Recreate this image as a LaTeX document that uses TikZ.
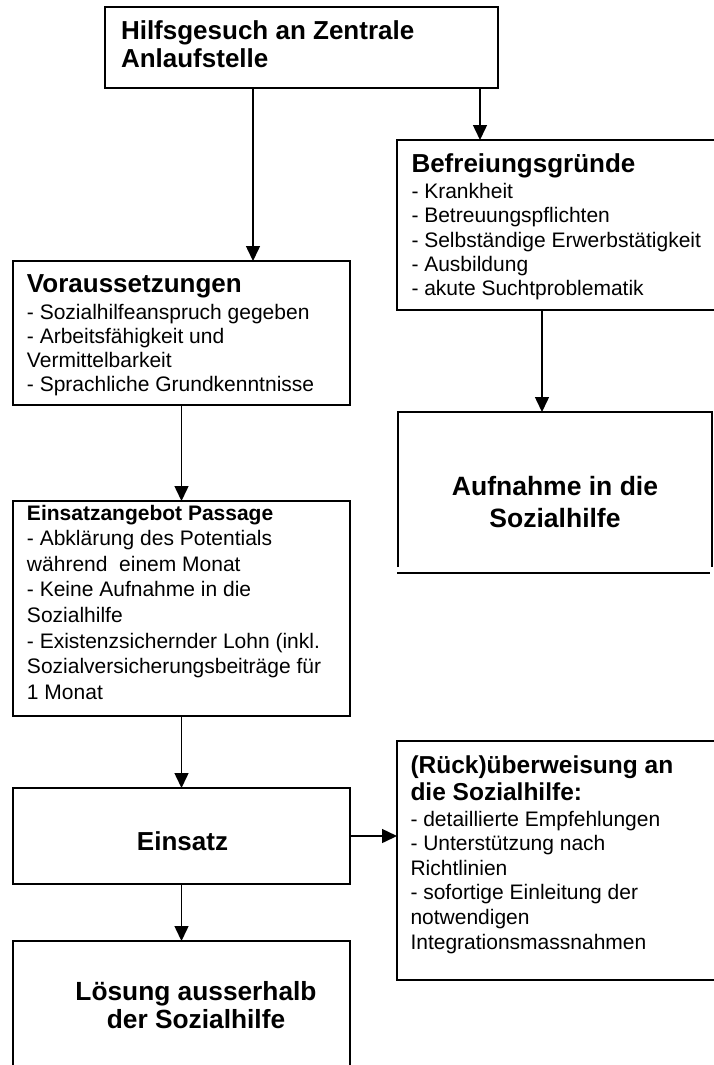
\documentclass[tikz,border=0pt]{standalone}
\usepackage{fontspec}
\setmainfont{Liberation Sans}
\usetikzlibrary{arrows.meta}
\tikzset{
  box/.style={rectangle, inner sep=0pt, outer sep=0pt, anchor=north west, line width=2pt},
  arr/.style={line width=1.5pt, -{Triangle[length=15pt,width=14pt]}},
  txt/.style={inner sep=0pt, outer sep=0pt, anchor=base west, text width=#1},
  ctxt/.style={inner sep=0pt, outer sep=0pt, anchor=base, text width=#1},
  border/.style={line width=2pt}
}
\newcommand{\headfont}[2]{\fontsize{#1}{#2}\selectfont\bfseries\spaceskip=0pt\xspaceskip=0pt\relax}
\newcommand{\bodyfont}[1]{\fontsize{21}{#1}\selectfont\mdseries\spaceskip=0pt\xspaceskip=0pt\relax}
\begin{document}
\begin{tikzpicture}[x=1pt,y=-1pt]
\fill[white] (0,0) rectangle (714,1065);
\useasboundingbox (0,0) rectangle (714,1065);

% boxes
\node[box, draw, minimum width=393pt, minimum height=81pt] (top) at (105,7) {};
\node[box, draw, minimum width=337pt, minimum height=144pt] (vor) at (13,261) {};
\node[box, draw, minimum width=337pt, minimum height=215pt] (ang) at (13,501) {};
\node[box, draw, minimum width=337pt, minimum height=96pt] (ein) at (13,788) {};
\node[box, minimum width=337pt, minimum height=130pt] (loe) at (13,941) {};
\node[box, minimum width=320pt, minimum height=170pt] (befr) at (397,140) {};
\node[box, minimum width=314pt, minimum height=155pt] (aufn) at (398,412) {};
\node[box, minimum width=320pt, minimum height=239pt] (rueck) at (397,741) {};

% open borders
\draw[border] (loe.south west) -- (loe.north west) -- (loe.north east) -- (loe.south east);
\draw[border] (befr.north east) -- (befr.north west) -- (befr.south west) -- (befr.south east);
\draw[border] (aufn.south west) -- (aufn.north west) -- (aufn.north east) -- (aufn.south east);
\draw[border] ([yshift=-6pt,xshift=-1pt]aufn.south west) -- ([yshift=-6pt,xshift=-2pt]aufn.south east);
\draw[border] (rueck.north east) -- (rueck.north west) -- (rueck.south west) -- (rueck.south east);

% texts
\node[txt=380pt] (toptxt) at (121,39.3)
  {\raggedright\headfont{26}{28.4}Hilfsgesuch an Zentrale\\Anlaufstelle\par};

\node[txt=330pt] (vortxt) at (27,292.7)
  {\raggedright\headfont{26}{28}Voraussetzungen\par\vspace{2pt}
   \bodyfont{24.3}- Sozialhilfeanspruch gegeben\\- Arbeitsfähigkeit und\\Vermittelbarkeit\\- Sprachliche Grundkenntnisse\par};

\node[txt=330pt] (befrtxt) at (411.5,172.3)
  {\raggedright\headfont{26}{28}Befreiungsgründe\par\vspace{1.9pt}
   \bodyfont{24.3}- Krankheit\\- Betreuungspflichten\\- Selbständige Erwerbstätigkeit\\- Ausbildung\\- akute Suchtproblematik\par};

\node[txt=330pt] (angtxt) at (27,520)
  {\raggedright\bodyfont{25.6}\textbf{Einsatzangebot Passage}\\- Abklärung des Potentials\\während~ einem Monat\\- Keine Aufnahme in die\\Sozialhilfe\\- Existenzsichernder Lohn (inkl.\\Sozialversicherungsbeiträge für\\1 Monat\par};

\node[txt=330pt] (ruecktxt) at (410.5,773.3)
  {\raggedright\headfont{24.5}{26.7}(Rück)überweisung an\\die Sozialhilfe:\par\vspace{1.4pt}
   \bodyfont{24.6}- detaillierte Empfehlungen\\- Unterstützung nach\\Richtlinien\\- sofortige Einleitung der\\notwendigen\\Integrationsmassnahmen\par};

\node[ctxt=300pt] (aufntxt) at (555,495)
  {\centering\headfont{26.5}{32}Aufnahme in die\\Sozialhilfe\par};

\node[ctxt=300pt] (eintxt) at (182.5,850)
  {\centering\headfont{26}{30}Einsatz\par};

\node[ctxt=320pt] (loetxt) at (196,1000)
  {\centering\headfont{26.3}{28}Lösung ausserhalb\\der Sozialhilfe\par};

% arrows
\draw[arr] ([xshift=-48.5pt]top.south) -- ([xshift=-48.5pt]top.south |- vor.north);
\draw[arr] ([xshift=178.5pt]top.south) -- ([xshift=178.5pt]top.south |- befr.north);
\draw[arr] ([xshift=-13pt]aufn.north |- befr.south) -- ([xshift=-13pt]aufn.north);
\draw[arr] (vor.south) -- (ang.north);
\draw[arr] (ang.south) -- (ein.north);
\draw[arr] (ein.south) -- (loe.north);
\draw[arr] (ein.east) -- (ein.east -| rueck.west);
\end{tikzpicture}
\end{document}
